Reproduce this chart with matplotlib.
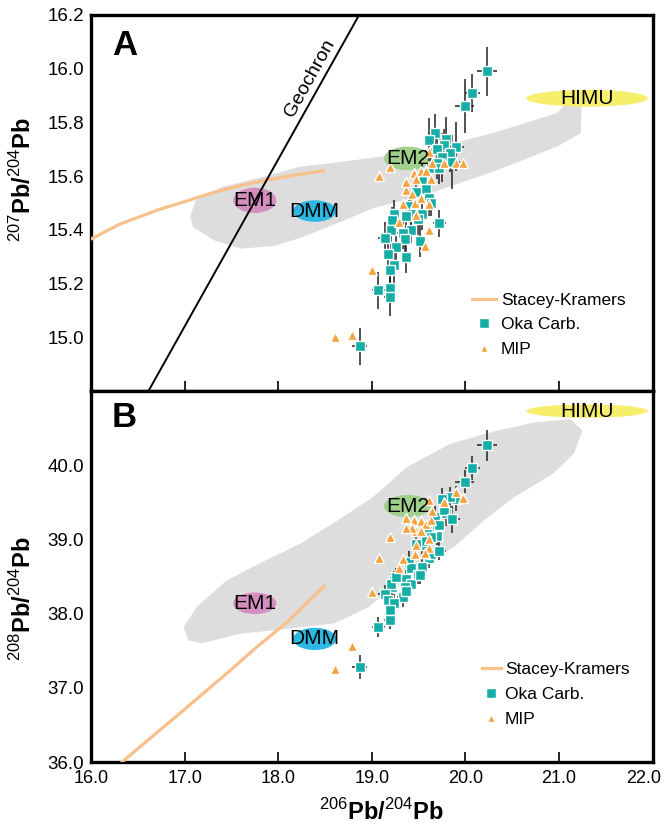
import numpy as np
import matplotlib.pyplot as plt
from matplotlib.patches import Ellipse, Polygon
from matplotlib.lines import Line2D
from matplotlib.transforms import ScaledTranslation

plt.rcParams['font.family'] = ['Liberation Sans', 'DejaVu Sans']
plt.rcParams['mathtext.fontset'] = 'custom'
plt.rcParams['mathtext.rm'] = 'Liberation Sans'
plt.rcParams['mathtext.bf'] = 'Liberation Sans:bold'

# Oka carbonatites: 206Pb/204Pb, 207Pb/204Pb, 208Pb/204Pb and 2 sigma errors
oka_206 = [20.23, 20.07, 19.99, 19.67, 19.61, 19.79, 19.90, 19.77, 19.70, 19.84,
           19.75, 19.86, 19.70, 19.63, 19.72, 19.54, 19.58, 19.47, 19.61, 19.63,
           19.40, 19.24, 19.42, 19.54, 19.36, 19.22, 19.49, 19.72, 19.20, 19.42,
           19.33, 19.14, 19.35, 19.51, 19.26, 19.17, 19.37, 19.24, 19.19, 19.07,
           19.19, 19.19, 18.87]
oka_207 = [15.99, 15.91, 15.86, 15.76, 15.735, 15.74, 15.71, 15.716, 15.70, 15.685,
           15.67, 15.654, 15.65, 15.63, 15.63, 15.585, 15.554, 15.54, 15.52, 15.50,
           15.49, 15.46, 15.46, 15.46, 15.45, 15.435, 15.44, 15.425, 15.40, 15.40,
           15.39, 15.37, 15.365, 15.36, 15.335, 15.31, 15.30, 15.27, 15.25, 15.175,
           15.185, 15.15, 14.966]
oka_208 = [40.27, 39.96, 39.78, 39.30, 39.12, 39.36, 39.55, 39.40, 39.17, 39.57,
           39.54, 39.27, 39.05, 39.03, 39.20, 38.92, 38.98, 38.94, 38.75, 38.80,
           38.70, 38.45, 38.61, 38.63, 38.47, 38.36, 38.52, 38.85, 38.40, 38.40,
           38.22, 38.26, 38.36, 38.52, 38.49, 38.19, 38.30, 38.14, 37.98, 37.82,
           38.05, 37.92, 37.28]
oka_e206 = [0.11, 0.08, 0.10, 0.06, 0.05, 0.07, 0.08, 0.05, 0.06, 0.06,
            0.05, 0.08, 0.05, 0.04, 0.06, 0.05, 0.04, 0.05, 0.06, 0.04,
            0.05, 0.05, 0.04, 0.06, 0.05, 0.04, 0.05, 0.07, 0.05, 0.04,
            0.06, 0.07, 0.05, 0.04, 0.06, 0.05, 0.05, 0.06, 0.05, 0.07,
            0.05, 0.06, 0.08]
oka_e207 = [0.09, 0.07, 0.10, 0.07, 0.08, 0.08, 0.09, 0.06, 0.08, 0.07,
            0.09, 0.10, 0.06, 0.07, 0.06, 0.06, 0.05, 0.06, 0.07, 0.05,
            0.06, 0.05, 0.05, 0.06, 0.05, 0.05, 0.06, 0.05, 0.07, 0.05,
            0.06, 0.06, 0.05, 0.06, 0.06, 0.07, 0.06, 0.07, 0.06, 0.07,
            0.06, 0.07, 0.07]
oka_e208 = [0.21, 0.16, 0.15, 0.15, 0.14, 0.18, 0.17, 0.13, 0.15, 0.14,
            0.16, 0.18, 0.13, 0.12, 0.14, 0.12, 0.11, 0.12, 0.13, 0.12,
            0.14, 0.12, 0.12, 0.13, 0.12, 0.11, 0.12, 0.13, 0.14, 0.12,
            0.13, 0.13, 0.12, 0.12, 0.13, 0.14, 0.12, 0.13, 0.12, 0.14,
            0.12, 0.13, 0.16]

# MIP samples
mip_206 = [19.08, 19.19, 19.61, 19.77, 19.90, 19.97, 19.45, 19.52, 19.58, 19.47,
           19.63, 19.64, 19.37, 19.43, 19.46, 19.33, 19.61, 19.47, 19.29, 19.61,
           19.57, 19.00, 18.79, 18.61, 19.52, 19.36]
mip_207 = [15.60, 15.635, 15.69, 15.65, 15.65, 15.65, 15.61, 15.62, 15.62, 15.59,
           15.59, 15.65, 15.55, 15.535, 15.50, 15.495, 15.495, 15.455, 15.43, 15.40,
           15.34, 15.25, 15.01, 15.00, 15.52, 15.58]
mip_208 = [38.75, 39.03, 39.53, 39.51, 39.64, 39.56, 39.26, 39.25, 39.21, 39.11,
           39.26, 39.38, 39.29, 39.15, 38.81, 38.74, 39.01, 38.93, 38.62, 38.88,
           38.82, 38.29, 37.57, 37.25, 39.12, 39.15]

# Stacey-Kramers growth curve
sk_206_a = [16.0, 16.3, 16.72, 17.0, 17.315, 17.6, 17.865, 18.2, 18.48]
sk_207 = [15.366, 15.42, 15.475, 15.505, 15.54, 15.565, 15.585, 15.605, 15.62]
sk_206_b = [16.33, 16.99, 17.5, 17.77, 18.09, 18.49]
sk_208 = [36.0, 36.70, 37.25, 37.55, 37.88, 38.37]

# Geochron
geo_206 = [16.614, 18.864]
geo_207 = [14.80, 16.20]

# OIB field outlines
oib_206_a = [17.06, 17.12, 17.40, 17.87, 18.23, 18.69, 19.15, 19.61, 20.29, 20.98,
             21.15, 21.23, 21.24, 21.23, 20.98, 20.29, 19.61, 19.01, 18.60, 18.23,
             17.96, 17.60, 17.32, 17.09]
oib_207_a = [15.45, 15.51, 15.56, 15.60, 15.635, 15.654, 15.675, 15.70, 15.76, 15.835,
             15.90, 15.915, 15.84, 15.76, 15.71, 15.616, 15.535, 15.48, 15.42, 15.37,
             15.34, 15.33, 15.36, 15.41]
oib_206_b = [17.04, 16.99, 17.13, 17.45, 17.87, 18.23, 18.64, 19.01, 19.38, 19.84,
             20.29, 20.75, 21.12, 21.25, 21.16, 20.94, 20.52, 20.20, 19.88, 19.61,
             19.24, 18.97, 18.60, 18.14, 17.59, 17.18]
oib_208_b = [37.64, 37.82, 38.09, 38.45, 38.72, 38.94, 39.26, 39.57, 39.98, 40.29,
             40.45, 40.58, 40.62, 40.47, 40.16, 39.89, 39.57, 39.26, 38.90, 38.72,
             38.40, 38.09, 37.87, 37.80, 37.73, 37.60]

# mantle end-members
em_names = ['HIMU', 'EM2', 'EM1', 'DMM']
em_206 = [21.30, 19.38, 17.75, 18.39]
em_207 = [15.89, 15.666, 15.51, 15.47]
em_208 = [40.73, 39.45, 38.14, 37.66]
em_w = [1.30, 0.50, 0.46, 0.46]
em_h207 = [0.0625, 0.0875, 0.094, 0.08]
em_h208 = [0.18, 0.30, 0.29, 0.30]
em_colors = ['#f6ef6c', '#9fd08c', '#d48fc0', '#2cb8e2']

teal = '#14aea6'
orange = '#f7a23c'
sk_color = '#f9c08c'
grey = '#dddddd'

fig = plt.figure(figsize=(6.64, 8.32), dpi=100)
ax1 = fig.add_axes([0.137, 0.530, 0.846, 0.452])
ax2 = fig.add_axes([0.137, 0.084, 0.846, 0.446])


def panel(ax, oib_x, oib_y, em_y, em_h, sk_x, sk_y, oka_y, oka_ey, mip_y):
    ax.add_patch(Polygon(np.column_stack([oib_x, oib_y]), closed=True,
                         facecolor=grey, edgecolor='none', zorder=1))
    for i in range(len(em_names)):
        ax.add_patch(Ellipse((em_206[i], em_y[i]), em_w[i], em_h[i],
                             facecolor=em_colors[i], edgecolor='none', zorder=2))
        ax.text(em_206[i], em_y[i], em_names[i], ha='center', va='center',
                fontsize=15, zorder=6)
    ax.plot(sk_x, sk_y, color=sk_color, lw=2.3, zorder=3)
    ax.errorbar(oka_206, oka_y, xerr=oka_e206, yerr=oka_ey, fmt='none',
                ecolor='#222222', elinewidth=1.1, capsize=0, zorder=4)
    ax.plot(oka_206, oka_y, 's', ms=7.5, mfc=teal, mec='white', mew=1.0, zorder=5)
    ax.plot(mip_206, mip_y, '^', ms=6.8, mfc=orange, mec='white', mew=1.0, zorder=5)

    handles = [Line2D([], [], color=sk_color, lw=2.3),
               Line2D([], [], marker='s', ls='none', ms=7, mfc=teal, mec='white'),
               Line2D([], [], marker='^', ls='none', ms=6, mfc=orange, mec='white')]
    return handles


h = panel(ax1, oib_206_a, oib_207_a, em_207, em_h207, sk_206_a, sk_207,
          oka_207, oka_e207, mip_207)
ax1.plot(geo_206, geo_207, color='black', lw=1.4, zorder=3)
ax1.text(18.34, 15.965, 'Geochron', rotation=61, ha='center', va='center', fontsize=14)
ax1.legend(h, ['Stacey-Kramers', 'Oka Carb.', 'MIP'], loc='upper left',
           bbox_to_anchor=(0.663, 0.285), frameon=False, fontsize=12.5, borderpad=0,
           handlelength=1.4, handletextpad=0.25, labelspacing=0.55)

panel(ax2, oib_206_b, oib_208_b, em_208, em_h208, sk_206_b, sk_208,
      oka_208, oka_e208, mip_208)
ax2.legend(h, ['Stacey-Kramers', 'Oka Carb.', 'MIP'], loc='upper left',
           bbox_to_anchor=(0.68, 0.293), frameon=False, fontsize=12.5, borderpad=0,
           handlelength=1.1, handletextpad=0.25, labelspacing=0.55)

ax1.set_xlim(16, 22)
ax1.set_ylim(14.8, 16.2)
ax1.set_yticks([15.0, 15.2, 15.4, 15.6, 15.8, 16.0, 16.2])
ax1.set_yticklabels(['15.0', '15.2', '15.4', '15.6', '15.8', '16.0', '16.2'])
ax1.set_xticks([17, 18, 19, 20, 21])
ax1.tick_params(axis='x', labelbottom=False)

ax2.set_xlim(16, 22)
ax2.set_ylim(36, 41)
ax2.set_yticks([36, 37, 38, 39, 40])
ax2.set_yticklabels(['36.0', '37.0', '38.0', '39.0', '40.0'])
ax2.set_xticks([16, 17, 18, 19, 20, 21, 22])
ax2.set_xticklabels(['16.0', '17.0', '18.0', '19.0', '20.0', '21.0', '22.0'])

for ax in (ax1, ax2):
    for s in ax.spines.values():
        s.set_linewidth(2.4)
    ax.tick_params(axis='x', direction='in', length=7, width=1.2, labelsize=13, pad=6)
    ax.tick_params(axis='y', length=0, labelsize=13.5, pad=5)

# last x label sits at the figure edge; nudge it inwards a little
last = ax2.get_xticklabels()[-1]
last.set_transform(last.get_transform() + ScaledTranslation(-0.09, 0, fig.dpi_scale_trans))

ax1.text(0.06, 0.92, 'A', transform=ax1.transAxes, fontsize=25, fontweight='bold',
         ha='center', va='center')
ax2.text(0.06, 0.93, 'B', transform=ax2.transAxes, fontsize=25, fontweight='bold',
         ha='center', va='center')

fig.text(0.034, 0.784, r'$^{207}\mathbf{Pb/}^{204}\mathbf{Pb}$', fontsize=17,
         rotation=90, ha='center', va='center')
fig.text(0.034, 0.281, r'$^{208}\mathbf{Pb/}^{204}\mathbf{Pb}$', fontsize=17,
         rotation=90, ha='center', va='center')
fig.text(0.574, 0.024, r'$^{206}\mathbf{Pb/}^{204}\mathbf{Pb}$', fontsize=17,
         ha='center', va='center')

fig.savefig('out.png', dpi=100)
